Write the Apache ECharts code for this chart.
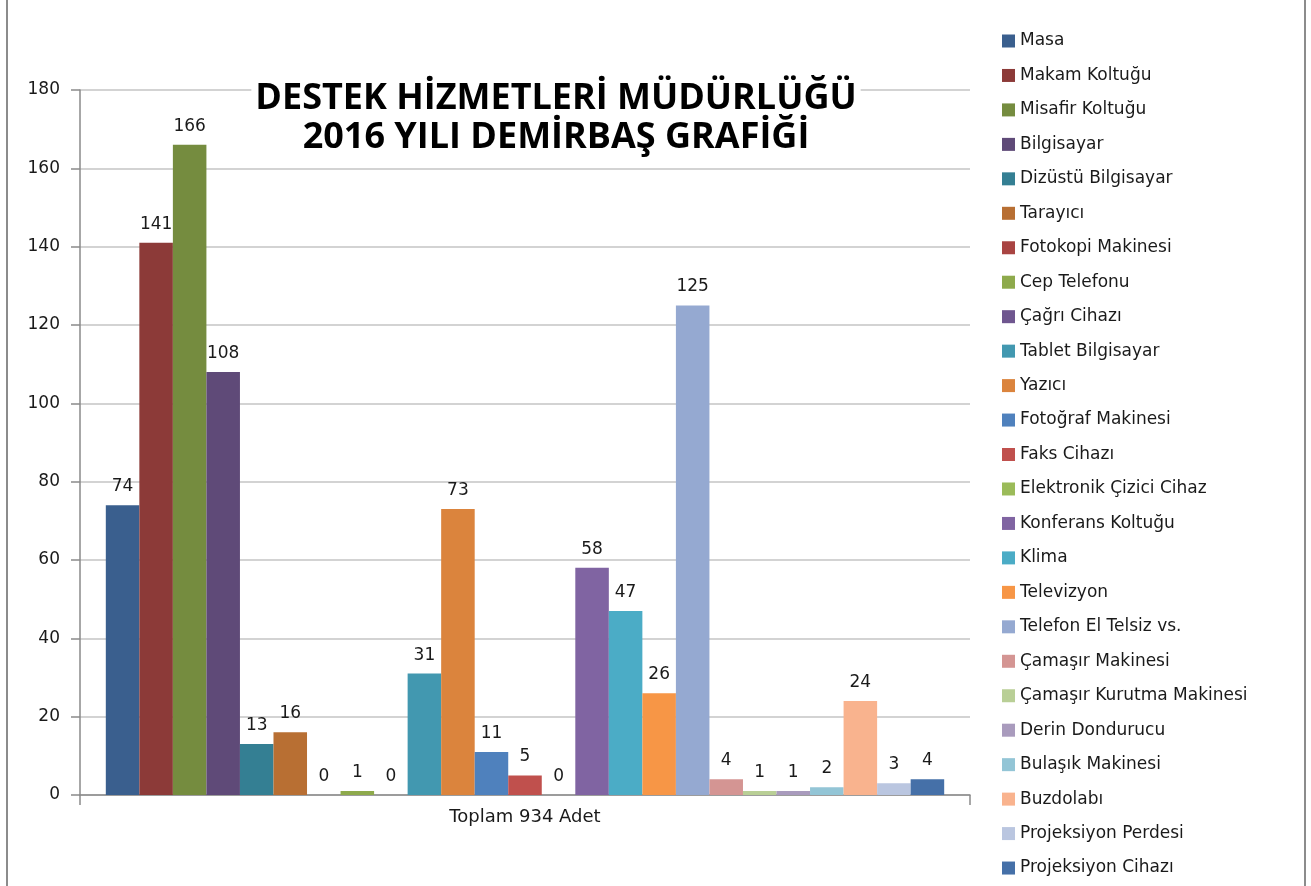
<!DOCTYPE html>
<html>
<head>
<meta charset="utf-8">
<script src="https://cdn.jsdelivr.net/npm/echarts@6/dist/echarts.min.js"></script>
<style>
  html, body { margin: 0; padding: 0; background: #fff; }
  #chart { width: 1311px; height: 886px; }
</style>
</head>
<body>
<div id="chart"></div>
<script>
const category = ['Toplam 934 Adet']

const itemNames = [
  'Masa', 'Makam Koltuğu', 'Misafir Koltuğu', 'Bilgisayar', 'Dizüstü Bilgisayar',
  'Tarayıcı', 'Fotokopi Makinesi', 'Cep Telefonu', 'Çağrı Cihazı', 'Tablet Bilgisayar',
  'Yazıcı', 'Fotoğraf Makinesi', 'Faks Cihazı', 'Elektronik Çizici Cihaz', 'Konferans Koltuğu',
  'Klima', 'Televizyon', 'Telefon El Telsiz vs.', 'Çamaşır Makinesi', 'Çamaşır Kurutma Makinesi',
  'Derin Dondurucu', 'Bulaşık Makinesi', 'Buzdolabı', 'Projeksiyon Perdesi', 'Projeksiyon Cihazı'
]

const itemCounts = [
  74, 141, 166, 108, 13,
  16, 0, 1, 0, 31,
  73, 11, 5, 0, 58,
  47, 26, 125, 4, 1,
  1, 2, 24, 3, 4
]

const itemColors = [
  '#3a5f8e', '#8c3a38', '#758c3f', '#5f4a78', '#347f93',
  '#b86f33', '#a94442', '#8eaa4c', '#6f568f', '#4298b0',
  '#db843d', '#4f81bd', '#c0504d', '#9bbb59', '#8064a2',
  '#4bacc6', '#f79646', '#95a9d1', '#d49593', '#b9cf96',
  '#a99bbd', '#93c5d6', '#f9b38e', '#bac6e0', '#4570a8'
]

const titleLines = ['DESTEK HİZMETLERİ MÜDÜRLÜĞÜ', '2016 YILI DEMİRBAŞ GRAFİĞİ']

const yTicks = { min: 0, max: 180, interval: 20 }

const chart = echarts.init(document.getElementById('chart'))

const font = '"DejaVu Sans", "Open Sans", sans-serif'
const titleFont = '"Open Sans", "DejaVu Sans", sans-serif'

const series = itemNames.map((name, i) => ({
  name,
  type: 'bar',
  data: [itemCounts[i]],
  barGap: '0%',
  barCategoryGap: '5.8%',
  itemStyle: { color: itemColors[i] },
  label: {
    show: true,
    position: 'top',
    distance: 10,
    fontFamily: font,
    fontSize: 17,
    color: '#1a1a1a'
  }
}))

const option = {
  animation: false,
  backgroundColor: '#fff',
  textStyle: { fontFamily: font },
  graphic: [
    {
      type: 'rect',
      shape: { x: 7, y: -5, width: 1298, height: 900 },
      style: { fill: 'none', stroke: '#8c8c8c', lineWidth: 2 },
      silent: true
    },
    {
      type: 'text',
      x: 556,
      y: 118,
      z: 100,
      style: {
        text: titleLines.join('\n'),
        fontFamily: titleFont,
        fontWeight: 'bold',
        fontSize: 36,
        lineHeight: 39,
        fill: '#000',
        align: 'center',
        verticalAlign: 'middle',
        backgroundColor: '#fff',
        padding: [0, 4, 0, 4]
      }
    }
  ],
  legend: {
    orient: 'vertical',
    left: 997,
    top: 27,
    icon: 'rect',
    itemWidth: 13,
    itemHeight: 13,
    itemGap: 16.46,
    textStyle: { fontFamily: font, fontSize: 17, color: '#1a1a1a', lineHeight: 18 },
    data: itemNames
  },
  grid: {
    left: 80,
    top: 90,
    right: 341,
    bottom: 91,
    containLabel: false
  },
  xAxis: {
    type: 'category',
    data: category,
    axisLine: { lineStyle: { color: '#8a8a8a', width: 1.5 } },
    axisTick: { show: true, length: 10, lineStyle: { color: '#8a8a8a', width: 1.5 } },
    axisLabel: { fontFamily: font, fontSize: 18, color: '#1a1a1a', margin: 13 }
  },
  yAxis: {
    type: 'value',
    min: yTicks.min,
    max: yTicks.max,
    interval: yTicks.interval,
    axisLine: { show: true, lineStyle: { color: '#8a8a8a', width: 1.5 } },
    axisTick: { show: true, length: 9, lineStyle: { color: '#8a8a8a', width: 1.5 } },
    axisLabel: { fontFamily: font, fontSize: 17, color: '#1a1a1a', margin: 20 },
    splitLine: { lineStyle: { color: '#c4c4c4', width: 1.5 } }
  },
  series
}

chart.setOption(option)
</script>
</body>
</html>
